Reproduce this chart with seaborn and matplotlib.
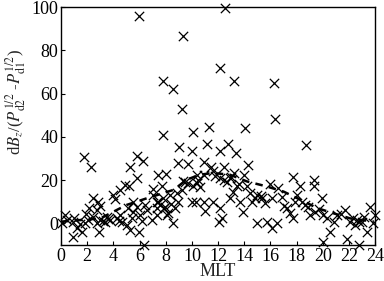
import numpy as np
import pandas as pd
import seaborn as sns
import matplotlib
matplotlib.use("Agg")
import matplotlib.pyplot as plt

# scatter points (MLT, ratio)
mlt = [5.99, 9.3, 12.53, 12.18, 13.2, 16.28, 7.82, 8.53, 9.27, 16.38,
       11.31, 14.04, 10.11, 7.82, 11.16, 12.79, 18.73, 9.04, 12.15, 10.01,
       13.4, 1.78, 5.78, 6.24, 2.27, 5.27, 8.9, 10.93, 14.29, 9.73,
       11.44, 12.46, 17.76, 19.29, 5.78, 7.44, 8.0, 10.37, 10.93, 12.15,
       12.92, 13.22, 11.64, 14.01, 15.93, 16.61, 9.35, 9.73, 10.11, 7.68,
       7.06, 4.89, 4.51, 5.2, 4.0, 4.13, 2.47, 2.85, 2.98, 2.17,
       1.91, 2.47, 2.73, 2.93, 0.94, 0.05, 0.43, 0.89, 1.45, 1.2,
       1.58, 1.83, 2.09, 3.36, 3.75, 3.49, 4.25, 4.51, 4.64, 5.02,
       5.4, 5.52, 5.78, 6.04, 5.99, 6.34, 5.27, 5.15, 5.52, 6.93,
       7.31, 7.44, 7.82, 7.95, 8.2, 8.59, 8.71, 8.08, 7.31, 8.33,
       8.84, 9.22, 8.97, 9.99, 10.32, 10.93, 11.0, 11.64, 12.03, 12.28,
       12.15, 12.92, 13.17, 13.43, 13.68, 13.89, 14.19, 14.45, 14.57, 14.83,
       14.96, 15.34, 15.59, 15.72, 16.1, 16.48, 16.1, 17.25, 17.5, 17.76,
       17.89, 18.01, 18.27, 18.39, 18.65, 19.03, 19.41, 19.29, 19.92, 20.04,
       19.99, 20.3, 20.56, 20.82, 21.07, 21.71, 21.83, 22.09, 22.34, 22.47,
       22.73, 22.8, 23.11, 23.36, 23.57, 23.87, 24.0, 0.31, 2.73, 3.0,
       6.42, 7.31, 7.56, 7.87, 10.37, 10.5, 10.63, 12.46, 12.66, 12.97,
       3.2, 3.6, 4.4, 6.6, 7.0, 8.4, 9.5, 11.8, 13.6, 15.0,
       16.9, 18.9, 19.7, 21.4, 22.6, 23.0, 1.0, 6.2, 15.3, 17.0]
val = [95.7, 86.4, 99.7, 71.8, 65.6, 65.1, 65.6, 62.2, 53.0, 48.2,
       44.7, 44.2, 42.2, 40.8, 36.9, 36.9, 36.4, 35.3, 33.3, 33.3,
       32.6, 30.5, 31.3, 28.7, 25.9, 26.0, 27.9, 28.2, 27.1, 27.4,
       25.9, 25.9, 21.4, 20.2, 20.9, 22.5, 22.8, 22.5, 22.2, 21.2,
       20.9, 23.3, 24.3, 22.5, 18.3, 16.3, 19.4, 18.6, 17.1, 17.4,
       15.8, 17.8, 15.5, 17.1, 13.2, 11.3, 11.6, 10.1, 8.2, 7.0,
       4.3, 3.1, 0.0, -3.9, -6.2, 0.0, 1.6, 0.8, -0.5, -2.3,
       -3.9, 0.0, 1.6, 0.8, 1.6, 3.1, 2.3, 3.9, 0.8, -0.8,
       2.3, 5.4, 7.8, 3.9, -3.9, -10.1, -3.1, 7.0, 10.1, 1.6,
       7.0, 10.1, 11.6, 7.8, 4.7, 0.0, 7.0, 3.9, 3.9, 13.2,
       14.0, 15.5, 10.1, 10.1, 9.8, 10.1, 5.7, 10.1, 0.8, 2.3,
       7.0, 11.6, 14.7, 17.1, 10.1, 5.4, 17.1, 14.0, 10.1, 11.6,
       0.0, 11.6, 9.3, 0.8, -2.3, 0.0, 11.6, 7.0, 4.7, 2.3,
       10.1, 13.2, 17.1, 10.1, 8.5, 3.9, 5.4, 17.1, 11.6, 3.9,
       -8.5, 2.3, -3.9, 0.8, 3.9, 6.2, -7.0, 0.8, 2.3, -0.8,
       0.8, -10.1, 3.1, -3.9, 7.8, 0.0, 3.9, 3.9, 6.2, 1.6,
       8.5, 10.1, 8.5, 7.0, 18.6, 20.2, 16.8, 20.2, 19.0, 21.5,
       1.2, 2.0, 1.0, 6.0, 13.0, 9.0, 19.0, 22.0, 18.0, 13.0,
       12.0, 7.5, 6.5, 4.5, 1.5, 0.5, 2.5, 1.0, 12.5, 8.0]

# dashed mean curve
curve_mlt = [0, 3, 5, 6.55, 8.6, 9.6, 10.6, 11.6, 12.9, 14.2, 15.7, 17, 18.3, 19.6, 20.8, 22.1, 23.9]
curve_val = [0.8, 2.3, 8.5, 11.6, 15.5, 20.2, 22.5, 23.3, 22.5, 19.4, 17.1, 14.7, 10.9, 7.0, 4.7, 2.3, 0.8]

sns.set_style("ticks")
plt.rcParams['font.family'] = ['Liberation Serif', 'DejaVu Serif']
plt.rcParams['mathtext.fontset'] = 'stix'
plt.rcParams['xtick.direction'] = 'in'
plt.rcParams['ytick.direction'] = 'in'

pts = pd.DataFrame({"MLT": mlt, "ratio": val})
cur = pd.DataFrame({"MLT": curve_mlt, "ratio": curve_val})

fig, ax = plt.subplots(figsize=(3.84, 2.81), dpi=100)
sns.scatterplot(data=pts, x="MLT", y="ratio", marker="x", color="black",
                s=45, linewidth=0.9, ax=ax, clip_on=False, zorder=3)
sns.lineplot(data=cur, x="MLT", y="ratio", color="black", linewidth=1.8,
             linestyle=(0, (3, 2.5)), ax=ax, zorder=2)

ax.set_xlim(0, 24)
ax.set_ylim(-10, 100)
ax.set_xticks(range(0, 25, 2))
ax.set_yticks([0, 20, 40, 60, 80, 100])
ax.tick_params(labelsize=13, length=3, width=0.8, colors="black", pad=2)
for s in ax.spines.values():
    s.set_linewidth(1.0)
    s.set_color("black")
ax.set_xlabel("MLT", fontsize=13, labelpad=-1)
ax.set_ylabel(r"d$B_z$/($P_{\mathrm{d2}}^{1/2}$ -$P_{\mathrm{d1}}^{1/2}$)", fontsize=12)
ax.yaxis.set_label_coords(-0.105, 0.6)

plt.subplots_adjust(left=0.159, right=0.977, top=0.975, bottom=0.128)
plt.savefig("out.png", dpi=100)
